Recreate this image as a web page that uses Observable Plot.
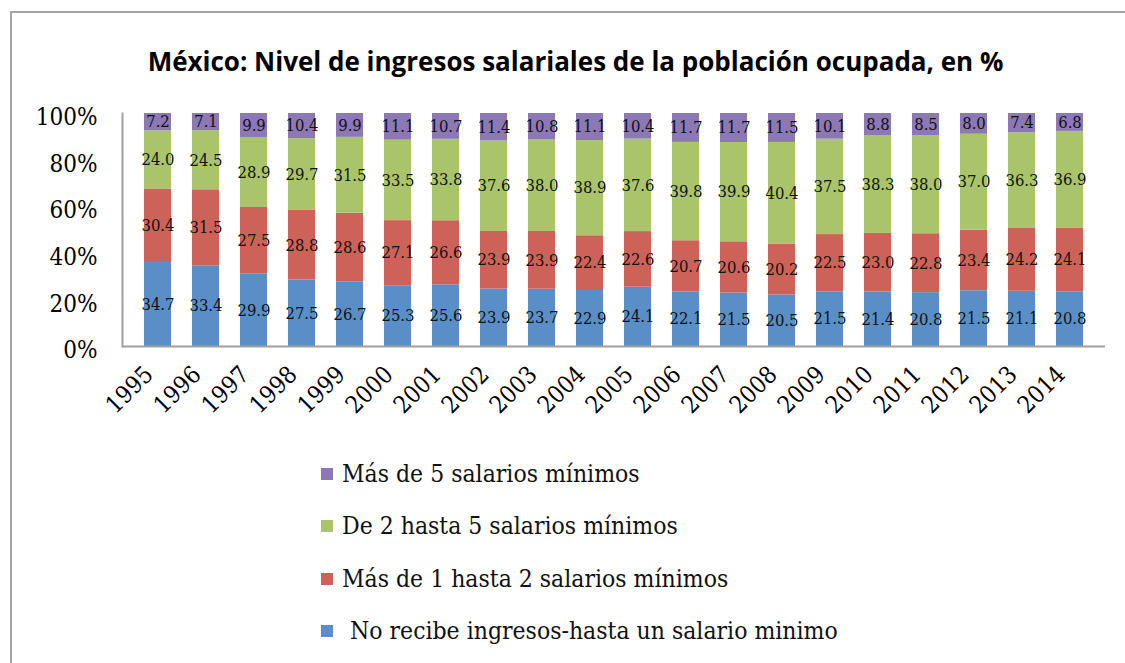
<!DOCTYPE html>
<html>
<head>
<meta charset="utf-8">
<script src="https://cdn.jsdelivr.net/npm/d3@7"></script>
<script src="https://cdn.jsdelivr.net/npm/@observablehq/plot@0.6"></script>
<style>
  html, body { margin: 0; padding: 0; background: #fff; }
  #frameTop { position: absolute; left: 10px; top: 11px; width: 1115px; height: 2px; background: #a4a4a4; }
  #frameLeft { position: absolute; left: 10px; top: 11px; width: 2px; height: 652px; background: #a4a4a4; }
  #title { position: absolute; left: 0; top: 44px; width: 1151px; text-align: center; font-family: "Open Sans", sans-serif; font-weight: 700; font-size: 26px; line-height: 34px; color: #000; }
  #chart { position: absolute; left: 0; top: 95px; }
  .leg { position: absolute; font-family: "DejaVu Serif Condensed", "DejaVu Serif", serif; font-stretch: condensed; font-size: 24.5px; line-height: 30px; color: #111; white-space: pre; }
  .sw { position: absolute; width: 12px; height: 12px; }
</style>
</head>
<body>
<div id="frameTop"></div>
<div id="frameLeft"></div>
<div id="title">México: Nivel de ingresos salariales de la población ocupada, en %</div>
<div id="chart"></div>
<div id="legend"></div>
<script>
const years = ["1995","1996","1997","1998","1999","2000","2001","2002","2003","2004","2005","2006","2007","2008","2009","2010","2011","2012","2013","2014"];
const categories = [
  "No recibe ingresos-hasta un salario minimo",
  "Más de 1 hasta 2 salarios mínimos",
  "De 2 hasta 5 salarios mínimos",
  "Más de 5 salarios mínimos"
];
const colors = ["#5A8EC6", "#CC6258", "#A9C46A", "#8C78B4"];
const noRecibe = [34.7,33.4,29.9,27.5,26.7,25.3,25.6,23.9,23.7,22.9,24.1,22.1,21.5,20.5,21.5,21.4,20.8,21.5,21.1,20.8];
const mas1a2   = [30.4,31.5,27.5,28.8,28.6,27.1,26.6,23.9,23.9,22.4,22.6,20.7,20.6,20.2,22.5,23.0,22.8,23.4,24.2,24.1];
const de2a5    = [24.0,24.5,28.9,29.7,31.5,33.5,33.8,37.6,38.0,38.9,37.6,39.8,39.9,40.4,37.5,38.3,38.0,37.0,36.3,36.9];
const mas5     = [7.2,7.1,9.9,10.4,9.9,11.1,10.7,11.4,10.8,11.1,10.4,11.7,11.7,11.5,10.1,8.8,8.5,8.0,7.4,6.8];
const yTicks = [0, 0.2, 0.4, 0.6, 0.8, 1];
const legendOrder = [3, 2, 1, 0];

const series = [noRecibe, mas1a2, de2a5, mas5];
const rows = [];
series.forEach((vals, i) => vals.forEach((v, j) => rows.push({year: years[j], cat: categories[i], value: v})));

const serif = "'DejaVu Serif Condensed', 'DejaVu Serif', serif";
const fmt = d3.format(".1f");

const chart = Plot.plot({
  width: 1125,
  height: 335,
  marginTop: 18,
  marginBottom: 84,
  marginLeft: 122,
  marginRight: 20,
  style: {fontFamily: serif, fontSize: "22px", color: "#000", background: "transparent", fontStretch: "condensed"},
  x: {domain: years, padding: 0.43, label: null},
  y: {domain: [0, 1], label: null},
  color: {domain: categories, range: colors},
  marks: [
    Plot.barY(rows, Plot.stackY({x: "year", y: "value", fill: "cat", order: categories, offset: "normalize"})),
    Plot.text(rows, Plot.stackY({x: "year", y: "value", z: "cat", order: categories, offset: "normalize", text: d => fmt(d.value), fontSize: 16.5, fill: "#111"})),
    Plot.axisX({tickSize: 0, tickRotate: -45, tickPadding: 10, dx: -9, dy: 14, fontSize: 24, label: null}),
    Plot.axisY({ticks: yTicks, tickFormat: d3.format(".0%"), tickSize: 0, tickPadding: 25, fontSize: 24, dy: 4, label: null}),
    Plot.ruleY([0], {stroke: "#a0a0a0", strokeWidth: 2}),
    Plot.frame({anchor: "left", stroke: "#a0a0a0", strokeWidth: 2})
  ]
});
document.getElementById("chart").appendChild(chart);

const leg = document.getElementById("legend");
const legTops = [474, 526, 579, 631];
const legLeft = [342, 342, 342, 350];
legendOrder.forEach((ci, k) => {
  const sw = document.createElement("div");
  sw.className = "sw";
  sw.style.left = "321px";
  sw.style.top = (legTops[k] - 6) + "px";
  sw.style.background = colors[ci];
  leg.appendChild(sw);
  const t = document.createElement("div");
  t.className = "leg";
  t.style.left = legLeft[k] + "px";
  t.style.top = (legTops[k] - 15) + "px";
  t.textContent = categories[ci];
  leg.appendChild(t);
});
</script>
</body>
</html>
